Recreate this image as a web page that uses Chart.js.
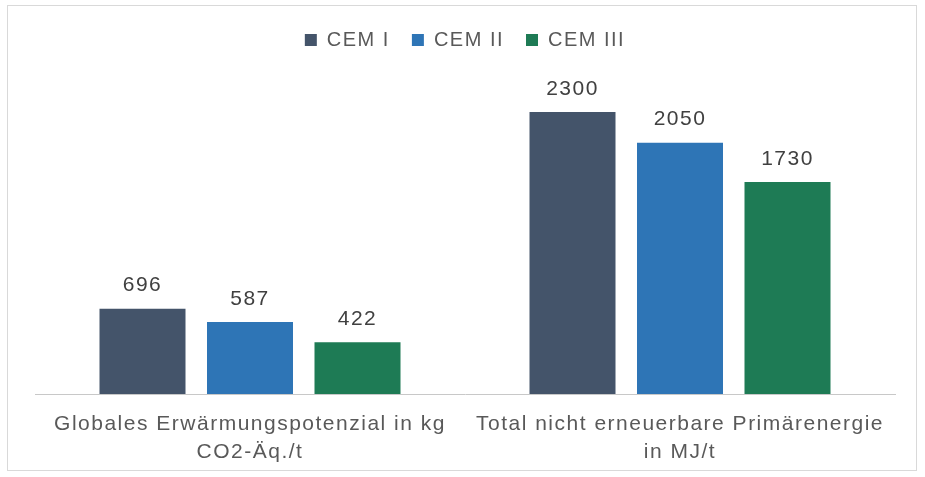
<!DOCTYPE html>
<html>
<head>
<meta charset="utf-8">
<script src="https://cdn.jsdelivr.net/npm/chart.js@4"></script>
<style>
  body { margin: 0; background: #fff; }
  #wrap { position: relative; width: 925px; height: 477px; }
  #frame { position: absolute; left: 7px; top: 5px; width: 908px; height: 464px; border: 1px solid #d9d9d9; pointer-events: none; }
</style>
</head>
<body>
<div id="wrap">
  <canvas id="chart" width="925" height="477"></canvas>
  <div id="frame"></div>
</div>
<script>
const categories = [
    ['Globales Erwärmungspotenzial in kg', 'CO2-Äq./t'],
    ['Total nicht erneuerbare Primärenergie', 'in MJ/t']
];
const seriesNames = ['CEM I', 'CEM II', 'CEM III'];
const cem1 = [696, 2300];
const cem2 = [587, 2050];
const cem3 = [422, 1730];
const seriesColors = ['#44546A', '#2E75B6', '#1E7B55'];

const FONT = "'Liberation Sans', Arial, sans-serif";

// text in the original is a bit wide, so spread the letters
const spacing = {
    id: 'spacing',
    beforeLayout(chart) { chart.ctx.letterSpacing = '1.5px'; },
    beforeDraw(chart) { chart.ctx.letterSpacing = '1.5px'; }
};

// value labels above bars
const valueLabels = {
    id: 'valueLabels',
    afterDatasetsDraw(chart) {
        const ctx = chart.ctx;
        ctx.save();
        ctx.font = '21px ' + FONT;
        ctx.fillStyle = '#404040';
        ctx.textAlign = 'center';
        ctx.textBaseline = 'middle';
        chart.data.datasets.forEach((ds, i) => {
            chart.getDatasetMeta(i).data.forEach((bar, j) => {
                ctx.fillText(ds.data[j], bar.x, bar.y - 23);
            });
        });
        ctx.restore();
    }
};

new Chart(document.getElementById('chart'), {
    type: 'bar',
    data: {
        labels: categories,
        datasets: [cem1, cem2, cem3].map((d, i) => ({
            label: seriesNames[i],
            data: d,
            backgroundColor: seriesColors[i],
            categoryPercentage: 0.75,
            barPercentage: 0.8
        }))
    },
    options: {
        responsive: false,
        animation: false,
        layout: { padding: { left: 35, right: 30, top: 8, bottom: 0 } },
        scales: {
            y: { display: false, min: 0, max: 2724 },
            x: {
                grid: { display: false, drawTicks: false },
                border: { display: true, color: '#c8c8c8', width: 1 },
                ticks: { color: '#595959', font: { family: FONT, size: 21, lineHeight: 1.3 }, maxRotation: 0, padding: 17 },
                afterFit(scale) { scale.height = 83; }
            }
        },
        plugins: {
            legend: {
                position: 'top',
                labels: {
                    color: '#595959',
                    font: { family: FONT, size: 20 },
                    boxWidth: 12,
                    boxHeight: 12,
                    padding: 22
                }
            },
            tooltip: { enabled: false }
        }
    },
    plugins: [spacing, valueLabels]
});
</script>
</body>
</html>
